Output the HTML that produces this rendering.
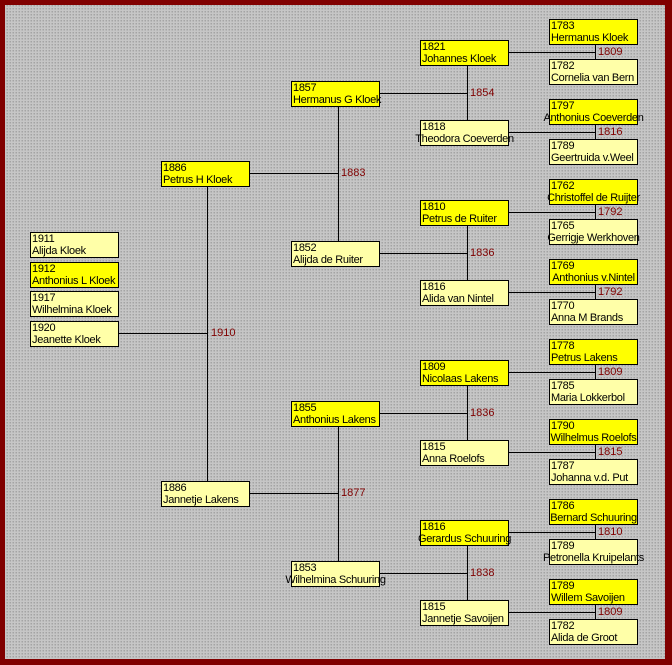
<!DOCTYPE html>
<html><head><meta charset="utf-8"><style>
html,body{margin:0;padding:0}
body{width:672px;height:665px;position:relative;overflow:hidden;background:#800000}
#bg{position:absolute;left:5px;top:5px;width:660px;height:654px;background:#bcbcbc repeating-conic-gradient(#a4a4a4 0 25%,#c6c6c6 0 100%) 0 0/3px 3px}
.b{position:absolute;width:87px;height:24px;border:1px solid #000;background:#ffff00;font:11px/12px "Liberation Sans",sans-serif;letter-spacing:-0.3px;color:#000;padding:0;box-sizing:content-box}
.f{background:#ffffa8}
.b div{padding-left:1px;white-space:nowrap}
.b .c{display:flex;justify-content:center;padding-left:0}
.h{position:absolute;height:1px;background:#000}
.v{position:absolute;width:1px;background:#000}
.l{position:absolute;font:11px/12px "Liberation Sans",sans-serif;color:#800000}
</style></head><body><div id="bg"></div>
<div class="h" style="left:509px;top:52px;width:86px"></div><div class="v" style="left:595px;top:44px;height:16px"></div><div class="l" style="left:598px;top:46px">1809</div>
<div class="h" style="left:509px;top:132px;width:86px"></div><div class="v" style="left:595px;top:124px;height:16px"></div><div class="l" style="left:598px;top:126px">1816</div>
<div class="h" style="left:509px;top:212px;width:86px"></div><div class="v" style="left:595px;top:204px;height:16px"></div><div class="l" style="left:598px;top:206px">1792</div>
<div class="h" style="left:509px;top:292px;width:86px"></div><div class="v" style="left:595px;top:284px;height:16px"></div><div class="l" style="left:598px;top:286px">1792</div>
<div class="h" style="left:509px;top:372px;width:86px"></div><div class="v" style="left:595px;top:364px;height:16px"></div><div class="l" style="left:598px;top:366px">1809</div>
<div class="h" style="left:509px;top:452px;width:86px"></div><div class="v" style="left:595px;top:444px;height:16px"></div><div class="l" style="left:598px;top:446px">1815</div>
<div class="h" style="left:509px;top:532px;width:86px"></div><div class="v" style="left:595px;top:524px;height:16px"></div><div class="l" style="left:598px;top:526px">1810</div>
<div class="h" style="left:509px;top:612px;width:86px"></div><div class="v" style="left:595px;top:604px;height:16px"></div><div class="l" style="left:598px;top:606px">1809</div>
<div class="v" style="left:467px;top:65px;height:56px"></div><div class="h" style="left:380px;top:93px;width:87px"></div><div class="l" style="left:470px;top:87px">1854</div>
<div class="v" style="left:467px;top:225px;height:56px"></div><div class="h" style="left:380px;top:253px;width:87px"></div><div class="l" style="left:470px;top:247px">1836</div>
<div class="v" style="left:467px;top:385px;height:56px"></div><div class="h" style="left:380px;top:413px;width:87px"></div><div class="l" style="left:470px;top:407px">1836</div>
<div class="v" style="left:467px;top:545px;height:56px"></div><div class="h" style="left:380px;top:573px;width:87px"></div><div class="l" style="left:470px;top:567px">1838</div>
<div class="v" style="left:338px;top:106px;height:136px"></div><div class="h" style="left:250px;top:173px;width:88px"></div><div class="l" style="left:341px;top:167px">1883</div>
<div class="v" style="left:338px;top:426px;height:136px"></div><div class="h" style="left:250px;top:493px;width:88px"></div><div class="l" style="left:341px;top:487px">1877</div>
<div class="v" style="left:207px;top:186px;height:296px"></div><div class="h" style="left:119px;top:333px;width:88px"></div><div class="l" style="left:211px;top:327px">1910</div>

<div class="b f" style="left:30px;top:232px"><div>1911</div><div>Alijda Kloek</div></div>
<div class="b" style="left:30px;top:262px"><div>1912</div><div>Anthonius L Kloek</div></div>
<div class="b f" style="left:30px;top:291px"><div>1917</div><div>Wilhelmina Kloek</div></div>
<div class="b f" style="left:30px;top:321px"><div>1920</div><div>Jeanette Kloek</div></div>
<div class="b" style="left:161px;top:161px"><div>1886</div><div>Petrus H Kloek</div></div>
<div class="b f" style="left:161px;top:481px"><div>1886</div><div>Jannetje Lakens</div></div>
<div class="b" style="left:291px;top:81px"><div>1857</div><div>Hermanus G Kloek</div></div>
<div class="b f" style="left:291px;top:241px"><div>1852</div><div>Alijda de Ruiter</div></div>
<div class="b" style="left:291px;top:401px"><div>1855</div><div>Anthonius Lakens</div></div>
<div class="b f" style="left:291px;top:561px"><div>1853</div><div class="c"><span>Wilhelmina Schuuring</span></div></div>
<div class="b" style="left:420px;top:40px"><div>1821</div><div>Johannes Kloek</div></div>
<div class="b f" style="left:420px;top:120px"><div>1818</div><div class="c"><span>Theodora Coeverden</span></div></div>
<div class="b" style="left:420px;top:200px"><div>1810</div><div>Petrus de Ruiter</div></div>
<div class="b f" style="left:420px;top:280px"><div>1816</div><div>Alida van Nintel</div></div>
<div class="b" style="left:420px;top:360px"><div>1809</div><div>Nicolaas Lakens</div></div>
<div class="b f" style="left:420px;top:440px"><div>1815</div><div>Anna Roelofs</div></div>
<div class="b" style="left:420px;top:520px"><div>1816</div><div class="c"><span>Gerardus Schuuring</span></div></div>
<div class="b f" style="left:420px;top:600px"><div>1815</div><div>Jannetje Savoijen</div></div>
<div class="b" style="left:549px;top:19px"><div>1783</div><div>Hermanus Kloek</div></div>
<div class="b f" style="left:549px;top:59px"><div>1782</div><div>Cornelia van Bern</div></div>
<div class="b" style="left:549px;top:99px"><div>1797</div><div class="c"><span>Anthonius Coeverden</span></div></div>
<div class="b f" style="left:549px;top:139px"><div>1789</div><div>Geertruida v.Weel</div></div>
<div class="b" style="left:549px;top:179px"><div>1762</div><div class="c"><span>Christoffel de Ruijter</span></div></div>
<div class="b f" style="left:549px;top:219px"><div>1765</div><div class="c"><span>Gerrigje Werkhoven</span></div></div>
<div class="b" style="left:549px;top:259px"><div>1769</div><div class="c"><span>Anthonius v.Nintel</span></div></div>
<div class="b f" style="left:549px;top:299px"><div>1770</div><div>Anna M Brands</div></div>
<div class="b" style="left:549px;top:339px"><div>1778</div><div>Petrus Lakens</div></div>
<div class="b f" style="left:549px;top:379px"><div>1785</div><div>Maria Lokkerbol</div></div>
<div class="b" style="left:549px;top:419px"><div>1790</div><div class="c"><span>Wilhelmus Roelofs</span></div></div>
<div class="b f" style="left:549px;top:459px"><div>1787</div><div>Johanna v.d. Put</div></div>
<div class="b" style="left:549px;top:499px"><div>1786</div><div class="c"><span>Bernard Schuuring</span></div></div>
<div class="b f" style="left:549px;top:539px"><div>1789</div><div class="c"><span>Petronella Kruipelants</span></div></div>
<div class="b" style="left:549px;top:579px"><div>1789</div><div>Willem Savoijen</div></div>
<div class="b f" style="left:549px;top:619px"><div>1782</div><div>Alida de Groot</div></div>
</body></html>
